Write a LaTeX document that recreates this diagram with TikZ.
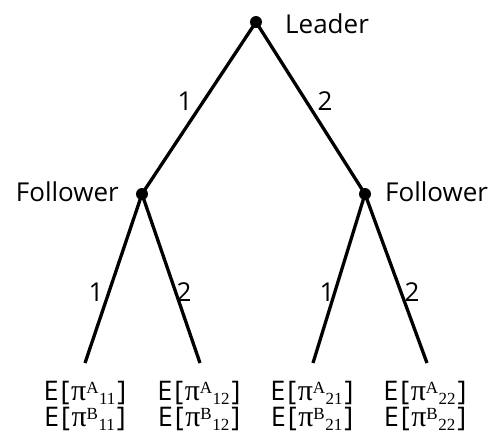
\documentclass[tikz,border=0pt]{standalone}
\usepackage{fontspec}
\setsansfont{Open Sans}
\newfontfamily\srf{Liberation Serif}
\newcommand{\payoff}[3]{E\kern2pt\smash{[}\kern1.5pt{\srf\fontsize{30}{30}\selectfont π\smash{\raisebox{0.22em}{\fontsize{17}{17}\selectfont #1}}\kern0.5pt\smash{\raisebox{-0.16em}{\fontsize{17}{17}\selectfont #2#3}}}\kern2pt\smash{]}}
\begin{document}
\begin{tikzpicture}[x=1pt,y=-1pt,
  edge/.style={line width=3.3pt},
  dot/.style={circle,fill=black,inner sep=0pt,minimum size=12pt},
  lbl/.style={font=\sffamily\fontsize{26}{26}\selectfont,inner sep=0pt},
  pay/.style={font=\sffamily\fontsize{27}{27}\selectfont,inner sep=0pt,anchor=base}]
\useasboundingbox (0,0) rectangle (499,448);
\node[dot] (r) at (256,22) {};
\node[dot] (f1) at (142,194) {};
\node[dot] (f2) at (365,194) {};
\coordinate (l11) at (85,363);
\coordinate (l12) at (200,363);
\coordinate (l21) at (313,363);
\coordinate (l22) at (427,363);
\draw[edge] (r.center) -- (f1.center);
\draw[edge] (r.center) -- (f2.center);
\draw[edge] (f1.center) -- (l11);
\draw[edge] (f1.center) -- (l12);
\draw[edge] (f2.center) -- (l21);
\draw[edge] (f2.center) -- (l22);
\node[lbl,anchor=base west] (tl) at (285,33) {Leader};
\node[lbl,anchor=base east] (tf1) at (119,201) {Follower};
\node[lbl,anchor=base west] (tf2) at (385,201) {Follower};
\node[lbl] (a1) at (185,101) {1};
\node[lbl] (a2) at (325,101) {2};
\node[lbl] (b1) at (96,292) {1};
\node[lbl] (b2) at (184,292) {2};
\node[lbl] (c1) at (327,292) {1};
\node[lbl] (c2) at (412,292) {2};
\node[pay] (p11a) at (85,400) {\payoff{A}{1}{1}};
\node[pay] (p11b) at (85,426) {\payoff{B}{1}{1}};
\node[pay] (p12a) at (199,400) {\payoff{A}{1}{2}};
\node[pay] (p12b) at (199,426) {\payoff{B}{1}{2}};
\node[pay] (p21a) at (312,400) {\payoff{A}{2}{1}};
\node[pay] (p21b) at (312,426) {\payoff{B}{2}{1}};
\node[pay] (p22a) at (425,400) {\payoff{A}{2}{2}};
\node[pay] (p22b) at (425,426) {\payoff{B}{2}{2}};
\end{tikzpicture}
\end{document}
